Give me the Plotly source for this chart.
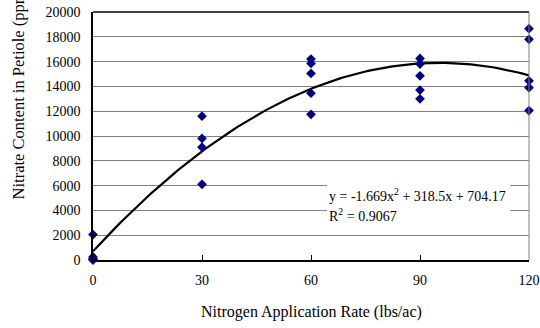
import numpy as np
import plotly.graph_objects as go

# Data
rate = [0, 0, 0, 0, 0,
        30, 30, 30, 30,
        60, 60, 60, 60, 60,
        90, 90, 90, 90, 90,
        120, 120, 120, 120, 120]
nitrate = [2050, 250, 100, 50, 0,
           11600, 9800, 9100, 6100,
           16200, 15850, 15050, 13450, 11750,
           16250, 15800, 14850, 13700, 13000,
           18650, 17800, 14450, 13900, 12050]

# Trendline coefficients (shown on chart)
coef_a, coef_b, coef_c = -1.669, 318.5, 704.17
x_tick_vals = [0, 30, 60, 90, 120]
x_tick_text = ["0", "30", "60", "90", "120"]
y_tick_vals = [0, 2000, 4000, 6000, 8000, 10000, 12000, 14000, 16000, 18000, 20000]
y_tick_text = ["0", "2000", "4000", "6000", "8000", "10000", "12000", "14000",
               "16000", "18000", "20000"]

fx = np.linspace(0, 120, 121)
fy = coef_a * fx**2 + coef_b * fx + coef_c

FONT = "Liberation Serif"

fig = go.Figure()
fig.add_trace(go.Scatter(x=fx, y=fy, mode="lines",
                         line=dict(color="black", width=2.2),
                         hoverinfo="skip", showlegend=False, cliponaxis=False))
fig.add_trace(go.Scatter(x=rate, y=nitrate, mode="markers",
                         marker=dict(symbol="diamond", size=7.5, color="#000080"),
                         showlegend=False, cliponaxis=False))

fig.update_layout(
    width=540, height=328,
    margin=dict(l=93, r=11, t=12, b=68, autoexpand=False),
    paper_bgcolor="white", plot_bgcolor="white",
    font=dict(family=FONT, size=14, color="black"),
    xaxis=dict(range=[0, 120], tickvals=x_tick_vals, ticktext=x_tick_text,
               ticks="inside", ticklen=5, automargin=False,
               tickcolor="black", showgrid=False, zeroline=False,
               showline=True, linecolor="black", linewidth=1.5, mirror=False,
               tickfont=dict(family=FONT, size=14), ticklabelstandoff=6),
    yaxis=dict(range=[0, 20000], tickvals=y_tick_vals, ticktext=y_tick_text,
               ticks="", automargin=False,
               showgrid=True, gridcolor="#808080", gridwidth=1, zeroline=False,
               showline=True, linecolor="black", linewidth=1.5,
               tickfont=dict(family=FONT, size=14), ticklabelstandoff=8),
    shapes=[
        dict(type="line", xref="paper", yref="paper", x0=0, x1=1, y0=1, y1=1,
             line=dict(color="black", width=1.5)),
        dict(type="line", xref="paper", yref="paper", x0=1, x1=1, y0=0, y1=1,
             line=dict(color="#808080", width=1)),
        dict(type="rect", xref="x", yref="y", x0=64.4, x1=114.8, y0=2850, y1=6450,
             fillcolor="white", line=dict(width=0), layer="above"),
    ],
    annotations=[
        dict(xref="x", yref="y", x=64.5, y=5250, xanchor="left", yanchor="middle",
             text="y = -1.669x<sup>2</sup> + 318.5x + 704.17", showarrow=False,
             font=dict(family=FONT, size=14)),
        dict(xref="x", yref="y", x=64.5, y=3650, xanchor="left", yanchor="middle",
             text="R<sup>2</sup> = 0.9067", showarrow=False,
             font=dict(family=FONT, size=14)),
        dict(xref="paper", yref="paper", x=0.5, y=-0.165, xanchor="center", yanchor="top",
             text="Nitrogen Application Rate (lbs/ac)", showarrow=False,
             font=dict(family=FONT, size=16)),
        dict(xref="paper", yref="paper", x=-0.171, y=(260 - 92) / 248, xanchor="center",
             yanchor="middle", textangle=-90,
             text="Nitrate Content in Petiole (ppm)", showarrow=False,
             font=dict(family=FONT, size=16.5)),
    ],
)

fig.write_html("out.html")
